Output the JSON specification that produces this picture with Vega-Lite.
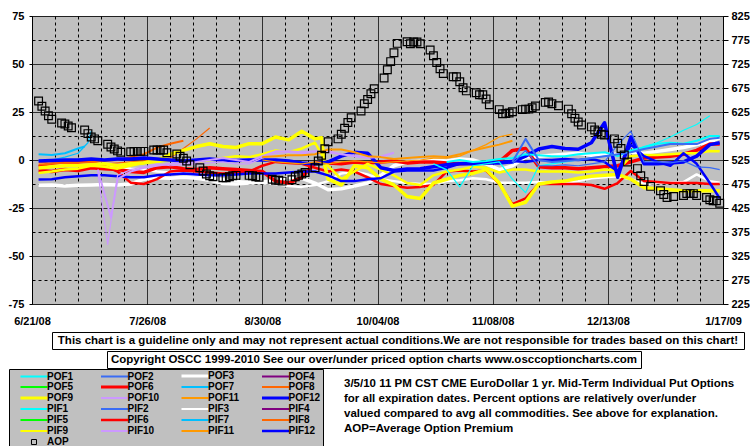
{
  "$schema": "https://vega.github.io/schema/vega-lite/v6.json",
  "padding": {"left": 7, "top": 9, "right": 0, "bottom": 0},
  "config": {
    "view": {"stroke": null},
    "axis": {"labelFont": "Liberation Sans", "labelFontWeight": "bold", "labelFontSize": 11, "labelColor": "black"},
    "text": {"font": "Liberation Sans"}
  },
  "datasets": {
    "lines": [
      {"d":"2008/06/23","POF3":-13.2,"PIF3":-1.5,"POF6":-5.5,"PIF6":-3.3,"POF7":3,"PIF7":-0.5,"POF8":-2.3,"PIF8":-1.5,"POF9":-4.2,"PIF9":-6.8,"POF12":-0.5,"PIF12":-10.2},
      {"d":"2008/06/27","POF3":-13,"PIF3":-1.5,"POF6":-6,"PIF6":-2,"POF7":2.6,"PIF7":0,"POF8":-2,"PIF8":-1,"POF9":-3.5,"PIF9":-6,"POF12":-0.3,"PIF12":-10},
      {"d":"2008/07/01","POF3":-13.5,"PIF3":-2,"POF6":-5,"PIF6":-1,"POF7":3.5,"PIF7":1.5,"POF8":-1.5,"PIF8":-2,"POF9":-3,"PIF9":-5,"POF12":0,"PIF12":-9},
      {"d":"2008/07/05","POF3":-13.2,"PIF3":-3,"POF6":-5.5,"PIF6":-0.5,"POF7":6,"PIF7":3.5,"POF8":-1.5,"PIF8":-2.5,"POF9":-3,"PIF9":-4.5,"POF12":0,"PIF12":-8.5},
      {"d":"2008/07/07","POF7":7},
      {"d":"2008/07/08","PIF7":9},
      {"d":"2008/07/09","POF3":-13,"PIF3":-3.5,"POF6":-4,"PIF6":-1,"PIF7":15,"POF8":-1,"PIF8":-3,"POF9":-2.5,"PIF9":-3,"POF12":0.5,"PIF12":-8},
      {"d":"2008/07/11","POF10":-5,"PIF10":-6},
      {"d":"2008/07/13","POF3":-12.8,"PIF3":-4,"POF6":-4.5,"PIF6":-3,"POF8":-0.5,"PIF8":-2,"POF9":-2,"PIF9":-3.5,"POF12":0,"PIF12":-8},
      {"d":"2008/07/14","PIF10":-44},
      {"d":"2008/07/15","POF10":-30},
      {"d":"2008/07/17","POF3":-13,"PIF3":-3.5,"POF6":-5,"PIF6":-6,"POF8":0,"PIF8":-1.5,"POF9":-3,"PIF9":-4.5,"POF10":-10,"PIF10":-8,"POF12":0.5,"PIF12":-8.5},
      {"d":"2008/07/21","POF3":-12.5,"PIF3":-4.5,"POF6":-6,"PIF6":-11.8,"POF8":1.5,"PIF8":-1,"POF9":-2,"PIF9":-3,"POF10":-6,"PIF10":-5,"POF12":0.5,"PIF12":-9},
      {"d":"2008/07/25","POF3":-10,"PIF3":-5,"POF6":-6.5,"PIF6":-12.5,"POF8":3,"PIF8":-0.5,"POF9":-1.5,"PIF9":-1.5,"POF10":-4,"PIF10":-3.5,"POF12":1,"PIF12":-9},
      {"d":"2008/07/29","POF3":-9.3,"PIF3":-6,"POF6":-4,"PIF6":-10,"POF8":6.5,"PIF8":0,"POF9":0,"PIF9":-1,"POF10":-3,"PIF10":-2,"POF12":0.5,"PIF12":-8},
      {"d":"2008/08/02","POF3":-9.5,"PIF3":-6.5,"POF6":-3.5,"PIF6":-6,"POF8":8.5,"PIF8":1,"POF9":3,"PIF9":0,"POF10":-2,"PIF10":-3,"POF12":0,"PIF12":-7.5},
      {"d":"2008/08/06","POF3":-9,"PIF3":-7,"POF6":-4.5,"PIF6":-5.5,"POF8":10,"PIF8":6,"POF9":5,"PIF9":-0.5,"POF10":-1.5,"PIF10":-2.5,"POF12":-0.5,"PIF12":-7},
      {"d":"2008/08/10","POF3":-9.5,"PIF3":-8,"POF6":-5,"PIF6":-6,"PIF8":11,"POF9":7,"PIF9":-1,"POF10":-1,"PIF10":-2,"POF12":0,"PIF12":-7.5},
      {"d":"2008/08/14","POF3":-10.5,"PIF3":-9,"POF6":-4,"PIF6":-6.5,"PIF8":16.7,"POF9":8.5,"PIF9":0,"POF10":0,"PIF10":-1.5,"POF12":0.5,"PIF12":-8},
      {"d":"2008/08/18","POF3":-12.3,"PIF3":-10,"POF6":-4.5,"PIF6":-7,"POF9":7,"PIF9":1,"POF10":1,"PIF10":-1,"POF12":0,"PIF12":-8},
      {"d":"2008/08/22","POF3":-12.5,"PIF3":-11,"POF6":-5,"PIF6":-6.5,"POF9":6.5,"PIF9":2,"POF10":0,"PIF10":-2,"POF12":-0.3,"PIF12":-7.5},
      {"d":"2008/08/26","POF3":-12,"PIF3":-11.5,"POF6":-5.5,"PIF6":-6,"POF9":8.5,"PIF9":1.5,"POF10":-1,"PIF10":-2,"POF12":0,"PIF12":-7},
      {"d":"2008/08/30","POF3":-11.5,"PIF3":-12,"POF6":-6,"PIF6":-3,"POF9":8.5,"PIF9":3,"POF10":2,"PIF10":1,"POF11":1.5,"PIF11":0,"POF12":0,"PIF12":-7},
      {"d":"2008/09/03","POF3":-10.5,"PIF3":-12.5,"POF6":-11,"PIF6":-1,"POF9":12,"PIF9":5,"POF10":4.5,"PIF10":3.5,"POF11":2,"PIF11":-1,"POF12":0,"PIF12":-7},
      {"d":"2008/09/07","POF3":-9,"PIF3":-13.5,"POF6":-12,"PIF6":-1.5,"POF9":10.5,"PIF9":4,"POF10":4.5,"PIF10":4,"POF11":2.5,"PIF11":-1.5,"POF12":-0.5,"PIF12":-6.5},
      {"d":"2008/09/11","POF3":-9.5,"PIF3":-14,"POF6":-9,"PIF6":-2,"POF9":15,"PIF9":6,"POF10":4,"PIF10":3.5,"POF11":2.5,"PIF11":-2,"POF12":-1.5,"PIF12":-6},
      {"d":"2008/09/15","POF3":-12,"PIF3":-13,"POF6":-1.5,"PIF6":-4,"POF9":11,"PIF9":9,"POF10":4.5,"PIF10":3,"POF11":3,"PIF11":-1,"POF12":-2,"PIF12":-6},
      {"d":"2008/09/17","POF9":11.6},
      {"d":"2008/09/18","POF9":-3},
      {"d":"2008/09/19","POF3":-15.5,"PIF3":-11,"POF6":-1.5,"PIF6":-6,"POF9":-10,"PIF9":-3,"POF10":4,"PIF10":5,"POF11":5.5,"PIF11":-2,"POF12":-1,"PIF12":-8},
      {"d":"2008/09/23","POF3":-15,"PIF3":-7,"POF6":-2,"PIF6":-5,"POF9":-13,"PIF9":-10,"POF10":3,"PIF10":3,"POF11":5.5,"PIF11":-1,"POF12":2,"PIF12":-11},
      {"d":"2008/09/27","POF3":-13.5,"PIF3":-6,"POF6":-1,"PIF6":-6,"POF9":-3,"PIF9":-6,"POF10":2,"PIF10":2.5,"POF11":4,"PIF11":-0.5,"POF12":4,"PIF12":-11},
      {"d":"2008/10/01","POF3":-12,"PIF3":-7.5,"POF6":-1.5,"PIF6":-9,"POF9":-4,"PIF9":-2,"POF10":1.2,"PIF10":1,"POF11":2,"PIF11":-1,"POF12":3.5,"PIF12":-10},
      {"d":"2008/10/05","POF3":-8,"PIF3":-10,"POF6":-1,"PIF6":-12.5,"POF9":-10,"PIF9":-5,"POF10":1.5,"PIF10":2,"POF11":1.5,"PIF11":-1.5,"POF12":-4,"PIF12":-9.5},
      {"d":"2008/10/09","POF3":-3,"PIF3":-11,"POF6":-0.5,"PIF6":-13.5,"POF9":-13,"PIF9":-8,"POF10":3.7,"PIF10":4,"POF11":0.5,"PIF11":-1,"POF12":-5.5,"PIF12":-6},
      {"d":"2008/10/13","POF3":-1,"PIF3":-12,"POF6":-1.5,"PIF6":-14.5,"POF9":-19,"PIF9":-12,"POF11":1,"PIF11":-0.5,"POF12":-4.7,"PIF12":-5.5},
      {"d":"2008/10/17","POF3":-0.5,"PIF3":-12.5,"POF6":-1,"PIF6":-14,"POF9":-20,"PIF9":-13,"POF11":1.5,"PIF11":0,"POF12":-4.5,"PIF12":-5.5},
      {"d":"2008/10/21","PIF1":-2,"POF3":0,"PIF3":-12.5,"POF6":-1,"PIF6":-13,"POF9":-12,"PIF9":-8,"POF11":2,"PIF11":1,"POF12":-3.5,"PIF12":-5.5},
      {"d":"2008/10/25","POF1":-1,"PIF1":-5,"POF3":-0.5,"PIF3":-11,"POF6":-1.5,"PIF6":-6,"POF9":-10,"PIF9":-6,"POF11":1.5,"PIF11":1,"POF12":-2.5,"PIF12":-4},
      {"d":"2008/10/29","POF1":0,"PIF1":-14,"POF3":0.5,"PIF3":-10.5,"POF6":-2,"PIF6":-5.5,"POF9":-8,"PIF9":-5,"POF11":3,"PIF11":2,"POF12":-2,"PIF12":-2},
      {"d":"2008/11/02","POF1":-1,"PIF1":-3,"POF3":0,"PIF3":-9.5,"POF6":-1.5,"PIF6":-6,"POF9":-7,"PIF9":-3.5,"POF11":5,"PIF11":5,"POF12":-2,"PIF12":-2},
      {"d":"2008/11/06","POF1":-0.5,"PIF1":-2,"POF3":-2,"PIF3":-10,"POF6":-1.5,"PIF6":-5.5,"POF9":-5,"PIF9":-4,"POF11":6.5,"PIF11":8,"POF12":-1.5,"PIF12":-1.5},
      {"d":"2008/11/10","POF1":0.5,"PIF1":-1,"POF3":-5,"PIF3":-11.8,"POF6":-1,"PIF6":-12.5,"POF9":-12,"PIF9":-6.5,"POF11":8,"PIF11":12,"POF12":-1.5,"PIF12":-1},
      {"d":"2008/11/14","POF1":1,"PIF1":-10,"POF2":-1,"PIF2":-2,"POF3":-3,"PIF3":-11.8,"POF6":5,"PIF6":-23,"POF9":-24,"PIF9":-5,"POF11":10,"PIF11":13.5,"POF12":-1,"PIF12":-0.5},
      {"d":"2008/11/18","POF1":3,"PIF1":-17,"POF2":11,"PIF2":5,"POF3":1.5,"PIF3":-11.8,"POF6":6,"PIF6":-20,"POF9":-22,"PIF9":-5,"POF12":2,"PIF12":-1},
      {"d":"2008/11/22","POF1":2.5,"PIF1":-3,"POF2":0,"PIF2":-3,"POF3":2,"PIF3":-11.5,"POF6":-3.5,"PIF6":-12.5,"POF9":-12.5,"PIF9":-6,"POF12":5.7,"PIF12":0},
      {"d":"2008/11/26","POF1":2,"PIF1":-2,"POF2":-1,"PIF2":-3,"POF3":2.5,"PIF3":-11.8,"POF6":-4,"PIF6":-12.5,"POF9":-11.5,"PIF9":-6,"POF12":7,"PIF12":0},
      {"d":"2008/11/30","POF1":2,"PIF1":-1,"POF2":-0.5,"PIF2":-2.5,"POF3":3,"PIF3":-11.8,"POF6":-4,"PIF6":-12.5,"POF9":-11,"PIF9":-6,"POF12":6,"PIF12":0.5},
      {"d":"2008/12/04","POF1":3,"PIF1":0,"POF2":0,"PIF2":-3,"POF3":3.5,"PIF3":-11,"POF6":-4.5,"PIF6":-12.5,"POF9":-9.5,"PIF9":-6.5,"POF12":5.6,"PIF12":0},
      {"d":"2008/12/08","POF1":3.5,"PIF1":1,"POF2":1,"PIF2":-2,"POF3":2.5,"PIF3":-9.5,"POF6":-4,"PIF6":-13,"POF9":-8.5,"PIF9":-6,"POF12":9,"PIF12":0.5},
      {"d":"2008/12/12","POF1":4,"PIF1":2,"POF2":2,"PIF2":-1,"POF3":3,"PIF3":-9,"POF6":-3.5,"PIF6":-15,"POF9":-8,"PIF9":-5,"POF12":19.4,"PIF12":-1},
      {"d":"2008/12/16","POF1":2,"PIF1":3,"POF2":3,"PIF2":8,"POF3":3,"PIF3":-8.5,"POF6":-3,"PIF6":-12,"POF9":-7.5,"PIF9":-5.5,"POF12":-9,"PIF12":-6},
      {"d":"2008/12/20","POF1":5,"PIF1":4.5,"POF2":4,"PIF2":15,"POF3":4,"PIF3":-10,"POF6":-1,"PIF6":-5.7,"POF9":-10,"PIF9":2,"POF12":12,"PIF12":8},
      {"d":"2008/12/24","POF1":6.5,"PIF1":7,"POF2":5.7,"PIF2":-1,"POF3":3.5,"PIF3":-12.5,"POF6":1,"PIF6":-11,"POF9":-14.4,"PIF9":2.6,"POF12":-2,"PIF12":2},
      {"d":"2008/12/28","POF1":8.5,"PIF1":9,"POF2":7,"PIF2":-1,"POF3":4.5,"PIF3":-12,"POF6":1.5,"PIF6":-11.5,"POF9":-15,"PIF9":2.6,"POF12":-2,"PIF12":-1},
      {"d":"2009/01/01","POF1":9,"PIF1":12,"POF2":8.3,"PIF2":-1.5,"POF3":5.5,"PIF3":-11.8,"POF6":2,"PIF6":-12,"POF9":-15.5,"PIF9":3,"POF12":-1.5,"PIF12":-3},
      {"d":"2009/01/05","POF1":8.5,"PIF1":15.5,"POF2":8.3,"PIF2":-0.5,"POF3":6.5,"PIF3":-11.5,"POF6":3,"PIF6":-12,"POF9":-16,"PIF9":3.5,"POF12":-1,"PIF12":3.5},
      {"d":"2009/01/09","POF1":10,"PIF1":18.5,"POF2":8.3,"PIF2":-3.6,"POF3":8,"PIF3":-7.5,"POF6":5,"PIF6":-12,"POF9":-16,"PIF9":3.5,"POF12":2,"PIF12":-2},
      {"d":"2009/01/13","POF1":12.5,"PIF1":23,"POF2":11,"PIF2":-4,"POF3":9.5,"PIF3":-11,"POF6":8.3,"PIF6":-12.5,"POF9":-16,"PIF9":4.7,"POF12":8,"PIF12":-12},
      {"d":"2009/01/16","POF1":12.5,"POF2":11.6,"PIF2":-5,"POF3":11.5,"PIF3":-11.8,"POF6":8.3,"PIF6":-12.5,"POF9":-16,"PIF9":4.5,"POF12":9,"PIF12":-20}
    ],
    "aop": [
      {"d":"2008/06/23","aop":648},{"d":"2008/06/24","aop":637},{"d":"2008/06/25","aop":627},{"d":"2008/06/26","aop":617},{"d":"2008/06/27","aop":610},
      {"d":"2008/06/30","aop":602},{"d":"2008/07/01","aop":600},{"d":"2008/07/02","aop":596},{"d":"2008/07/03","aop":592},
      {"d":"2008/07/07","aop":587.5},{"d":"2008/07/08","aop":580},{"d":"2008/07/09","aop":573},{"d":"2008/07/10","aop":569},{"d":"2008/07/11","aop":565},
      {"d":"2008/07/14","aop":558},{"d":"2008/07/15","aop":552},{"d":"2008/07/16","aop":548},{"d":"2008/07/17","aop":544},{"d":"2008/07/18","aop":541},
      {"d":"2008/07/21","aop":542},{"d":"2008/07/22","aop":543},{"d":"2008/07/23","aop":543},{"d":"2008/07/24","aop":543},{"d":"2008/07/25","aop":543},
      {"d":"2008/07/28","aop":546},{"d":"2008/07/29","aop":546},{"d":"2008/07/30","aop":546},{"d":"2008/07/31","aop":546},{"d":"2008/08/01","aop":540},
      {"d":"2008/08/04","aop":537.5},{"d":"2008/08/05","aop":533},{"d":"2008/08/06","aop":528.5},{"d":"2008/08/07","aop":523},{"d":"2008/08/08","aop":515},
      {"d":"2008/08/11","aop":509},{"d":"2008/08/12","aop":502},{"d":"2008/08/13","aop":496},{"d":"2008/08/14","aop":492},{"d":"2008/08/15","aop":490},
      {"d":"2008/08/18","aop":488},{"d":"2008/08/19","aop":488},{"d":"2008/08/20","aop":490},{"d":"2008/08/21","aop":492},{"d":"2008/08/22","aop":493},
      {"d":"2008/08/26","aop":493},{"d":"2008/08/27","aop":492},{"d":"2008/08/28","aop":490},{"d":"2008/08/29","aop":489},
      {"d":"2008/09/02","aop":485},{"d":"2008/09/03","aop":483},{"d":"2008/09/04","aop":483},{"d":"2008/09/05","aop":481},
      {"d":"2008/09/08","aop":484},{"d":"2008/09/09","aop":490},{"d":"2008/09/10","aop":493},{"d":"2008/09/11","aop":496},{"d":"2008/09/12","aop":499},
      {"d":"2008/09/15","aop":509},{"d":"2008/09/16","aop":523},{"d":"2008/09/17","aop":535},{"d":"2008/09/18","aop":548.5},{"d":"2008/09/19","aop":563},
      {"d":"2008/09/22","aop":569},{"d":"2008/09/23","aop":578.5},{"d":"2008/09/24","aop":591},{"d":"2008/09/25","aop":603},{"d":"2008/09/26","aop":613},
      {"d":"2008/09/29","aop":627},{"d":"2008/09/30","aop":642},{"d":"2008/10/01","aop":651},{"d":"2008/10/02","aop":663},{"d":"2008/10/03","aop":673.5},
      {"d":"2008/10/06","aop":696},{"d":"2008/10/07","aop":713},{"d":"2008/10/08","aop":730},{"d":"2008/10/09","aop":748.5},{"d":"2008/10/10","aop":768},
      {"d":"2008/10/13","aop":771.5},{"d":"2008/10/14","aop":767},{"d":"2008/10/15","aop":771},{"d":"2008/10/16","aop":771},{"d":"2008/10/17","aop":767},
      {"d":"2008/10/20","aop":754},{"d":"2008/10/21","aop":742},{"d":"2008/10/22","aop":728},{"d":"2008/10/23","aop":715},{"d":"2008/10/24","aop":705},
      {"d":"2008/10/27","aop":698.5},{"d":"2008/10/28","aop":698.5},{"d":"2008/10/29","aop":688},{"d":"2008/10/30","aop":675.5},{"d":"2008/10/31","aop":669},
      {"d":"2008/11/03","aop":665},{"d":"2008/11/04","aop":661},{"d":"2008/11/05","aop":661},{"d":"2008/11/06","aop":652},{"d":"2008/11/07","aop":640},
      {"d":"2008/11/10","aop":630},{"d":"2008/11/11","aop":621.5},{"d":"2008/11/12","aop":622},{"d":"2008/11/13","aop":623},{"d":"2008/11/14","aop":625.6},
      {"d":"2008/11/17","aop":630},{"d":"2008/11/18","aop":631},{"d":"2008/11/19","aop":631},{"d":"2008/11/20","aop":634},{"d":"2008/11/21","aop":637.5},
      {"d":"2008/11/24","aop":645},{"d":"2008/11/25","aop":646},{"d":"2008/11/26","aop":642},{"d":"2008/11/28","aop":638},
      {"d":"2008/12/01","aop":631},{"d":"2008/12/02","aop":621.5},{"d":"2008/12/03","aop":612},{"d":"2008/12/04","aop":604},{"d":"2008/12/05","aop":598},
      {"d":"2008/12/08","aop":594},{"d":"2008/12/09","aop":587.5},{"d":"2008/12/10","aop":584},{"d":"2008/12/11","aop":578.5},{"d":"2008/12/12","aop":577},
      {"d":"2008/12/15","aop":569},{"d":"2008/12/16","aop":560},{"d":"2008/12/17","aop":549},{"d":"2008/12/18","aop":535.5},{"d":"2008/12/19","aop":521},
      {"d":"2008/12/22","aop":507},{"d":"2008/12/23","aop":492},{"d":"2008/12/24","aop":480},{"d":"2008/12/26","aop":470},
      {"d":"2008/12/29","aop":461},{"d":"2008/12/30","aop":453},{"d":"2008/12/31","aop":447},{"d":"2009/01/02","aop":449},
      {"d":"2009/01/05","aop":451},{"d":"2009/01/06","aop":455},{"d":"2009/01/07","aop":455},{"d":"2009/01/08","aop":455},{"d":"2009/01/09","aop":451},
      {"d":"2009/01/12","aop":447},{"d":"2009/01/13","aop":442},{"d":"2009/01/14","aop":440},{"d":"2009/01/15","aop":440},{"d":"2009/01/16","aop":435}
    ]
  },
  "bounds": "flush",
  "spacing": 28,
  "vconcat": [
    {
      "width": 691,
      "height": 288,
      "view": {"fill": "#c0c0c0", "stroke": "#808080"},
      "resolve": {"scale": {"y": "independent"}},
      "encoding": {
        "x": {
          "field": "d", "type": "temporal",
          "scale": {"domain": [{"year":2008,"month":6,"date":21},{"year":2009,"month":1,"date":17}]},
          "axis": {
            "title": null,
            "values": [{"year":2008,"month":6,"date":21},{"year":2008,"month":6,"date":28},{"year":2008,"month":7,"date":5},{"year":2008,"month":7,"date":12},{"year":2008,"month":7,"date":19},{"year":2008,"month":7,"date":26},{"year":2008,"month":8,"date":2},{"year":2008,"month":8,"date":9},{"year":2008,"month":8,"date":16},{"year":2008,"month":8,"date":23},{"year":2008,"month":8,"date":30},{"year":2008,"month":9,"date":6},{"year":2008,"month":9,"date":13},{"year":2008,"month":9,"date":20},{"year":2008,"month":9,"date":27},{"year":2008,"month":10,"date":4},{"year":2008,"month":10,"date":11},{"year":2008,"month":10,"date":18},{"year":2008,"month":10,"date":25},{"year":2008,"month":11,"date":1},{"year":2008,"month":11,"date":8},{"year":2008,"month":11,"date":15},{"year":2008,"month":11,"date":22},{"year":2008,"month":11,"date":29},{"year":2008,"month":12,"date":6},{"year":2008,"month":12,"date":13},{"year":2008,"month":12,"date":20},{"year":2008,"month":12,"date":27},{"year":2009,"month":1,"date":3},{"year":2009,"month":1,"date":10},{"year":2009,"month":1,"date":17}],
            "grid": true,
            "gridColor": "black",
            "gridWidth": 1,
            "gridDash": {"condition": {"test": "round((datum.value - datetime(2008,5,21)) / 86400000) % 35 === 0", "value": [1, 0]}, "value": [3, 3]},
            "ticks": false,
            "domain": false,
            "labelExpr": "round((datum.value - datetime(2008,5,21)) / 86400000) % 35 === 0 ? timeFormat(datum.value, '%-m/%d/%y') : ''",
            "labelPadding": 11,
            "labelFlush": false,
            "labelOverlap": false
          }
        }
      },
      "layer": [
        {
          "data": {"name": "lines"},
          "transform": [
            {"fold": ["POF1","PIF1","POF2","PIF2","POF3","PIF3","POF6","PIF6","POF7","PIF7","POF8","PIF8","POF9","PIF9","POF10","PIF10","POF11","PIF11","POF12","PIF12"], "as": ["series", "value"]},
            {"filter": "isValid(datum.value)"}
          ],
          "mark": {"type": "line", "strokeJoin": "round"},
          "encoding": {
            "y": {
              "field": "value", "type": "quantitative",
              "scale": {"domain": [-75, 75], "nice": false, "zero": false},
              "axis": {
                "title": null,
                "values": [-75, -62.5, -50, -37.5, -25, -12.5, 0, 12.5, 25, 37.5, 50, 62.5, 75],
                "grid": true,
                "gridColor": "black",
                "gridDash": {"condition": {"test": "datum.value % 25 === 0", "value": [1, 0]}, "value": [3, 3]},
                "tickSize": 3,
                "tickColor": "black",
                "tickOpacity": {"condition": {"test": "datum.value % 25 !== 0", "value": 0}, "value": 1},
                "domainColor": "black",
                "labelExpr": "datum.value % 25 === 0 ? '' + datum.value : ''",
                "labelPadding": 5,
                "labelOverlap": false
              }
            },
            "color": {
              "field": "series", "type": "nominal",
              "scale": {
                "domain": ["POF1","POF2","POF3","POF4","POF5","POF6","POF7","POF8","POF9","POF10","POF11","POF12","PIF1","PIF2","PIF3","PIF4","PIF5","PIF6","PIF7","PIF8","PIF9","PIF10","PIF11","PIF12","AOP"],
                "range": ["#00ffff","#3a6cf4","#ffffff","#800080","#00ff00","#ff0000","#00bfff","#ff6600","#ffff00","#cc99ff","#ff9900","#0000ff","#00ffff","#3a6cf4","#ffffff","#800080","#00ff00","#ff0000","#00bfff","#ff6600","#ffff00","#cc99ff","#ff9900","#0000ff","#000000"]
              },
              "legend": {
                "orient": "none",
                "legendX": -23,
                "legendY": 353,
                "title": null,
                "direction": "horizontal",
                "columns": 4,
                "gridAlign": "all",
                "fillColor": "#c0c0c0",
                "strokeColor": "black",
                "padding": 2,
                "symbolType": "M-3.86,0H3.86",
                "symbolSize": 49,
                "symbolOffset": 18,
                "symbolStrokeWidth": 2,
                "labelOffset": 8,
                "labelFont": "Liberation Sans",
                "labelFontWeight": "bold",
                "labelFontSize": 10,
                "labelColor": "black",
                "labelLimit": 80,
                "columnPadding": 12.5,
                "rowPadding": -3.6,
                "encode": {
                  "symbols": {
                    "update": {
                      "shape": {"signal": "datum.value === 'AOP' ? 'square' : 'M-3.86,0H3.86'"},
                      "size": {"signal": "datum.value === 'AOP' ? 25 : 49"},
                      "strokeWidth": {"signal": "datum.value === 'AOP' ? 1 : (indexof(['POF3','POF6','POF9','POF12'], datum.value) >= 0 ? 3 : (indexof(['PIF6','PIF12'], datum.value) >= 0 ? 2.5 : 2))"},
                      "fill": {"value": "transparent"}
                    }
                  }
                }
              }
            },
            "strokeWidth": {
              "field": "series", "type": "nominal",
              "scale": {
                "type": "ordinal",
                "domain": ["POF1","POF2","POF3","POF4","POF5","POF6","POF7","POF8","POF9","POF10","POF11","POF12","PIF1","PIF2","PIF3","PIF4","PIF5","PIF6","PIF7","PIF8","PIF9","PIF10","PIF11","PIF12"],
                "range": [2,2,3.5,2,2,3.5,2,2,3.5,2,2,3.5,1.2,1.2,2.5,1.2,1.2,2.5,1.2,1.2,2.5,1.2,1.2,2.5]
              },
              "legend": null
            }
          }
        },
        {
          "data": {"name": "aop"},
          "mark": {"type": "point", "shape": "square", "filled": false, "size": 60, "strokeWidth": 1.2, "opacity": 1},
          "encoding": {
            "y": {
              "field": "aop", "type": "quantitative",
              "scale": {"domain": [225, 825], "nice": false, "zero": false},
              "axis": {
                "orient": "right",
                "title": null,
                "values": [225, 275, 325, 375, 425, 475, 525, 575, 625, 675, 725, 775, 825],
                "grid": false,
                "tickSize": 5,
                "tickColor": "black",
                "domainColor": "black",
                "labelPadding": 3,
                "labelOverlap": false,
                "labelFlush": false
              }
            },
            "color": {"datum": "AOP"}
          }
        }
      ]
    },
    {
      "spacing": 0,
      "vconcat": [
        {
          "spacing": 18,
          "hconcat": [
            {"width": 1, "height": 17, "data": {"values": [{}]}, "mark": {"type": "text", "text": ""}},
            {
              "width": 692, "height": 17,
              "view": {"fill": "white", "stroke": "black", "strokeWidth": 1},
              "data": {"values": [{"t": "This chart is a guideline only and may not represent actual conditions.We are not responsible for trades based on this chart!"}]},
              "mark": {"type": "text", "font": "Liberation Sans", "fontWeight": "bold", "fontSize": 11.5, "color": "black"},
              "encoding": {"text": {"field": "t", "type": "nominal"}}
            }
          ]
        },
        {
          "spacing": 73,
          "hconcat": [
            {"width": 1, "height": 17, "data": {"values": [{}]}, "mark": {"type": "text", "text": ""}},
            {
              "width": 534, "height": 17,
              "view": {"fill": "white", "stroke": "black", "strokeWidth": 1},
              "data": {"values": [{"t": "Copyright OSCC 1999-2010 See our over/under priced option charts www.osccoptioncharts.com"}]},
              "mark": {"type": "text", "font": "Liberation Sans", "fontWeight": "bold", "fontSize": 11.5, "color": "black"},
              "encoding": {"text": {"field": "t", "type": "nominal"}}
            }
          ]
        },
        {
          "spacing": 310,
          "hconcat": [
            {"width": 1, "height": 30, "data": {"values": [{}]}, "mark": {"type": "text", "text": ""}},
            {
              "width": 2, "height": 30,
              "data": {"values": [{"t": ["3/5/10 11 PM CST CME EuroDollar 1 yr. Mid-Term Individual Put Options", "for all expiration dates. Percent options are relatively over/under", "valued compared to avg all commodities. See above for explanation.", "AOP=Average Option Premium"]}]},
              "mark": {"type": "text", "align": "left", "lineHeight": 15, "font": "Liberation Sans", "fontWeight": "bold", "fontSize": 11.5, "color": "black"},
              "encoding": {"text": {"field": "t", "type": "nominal"}}
            }
          ]
        }
      ]
    }
  ]
}
